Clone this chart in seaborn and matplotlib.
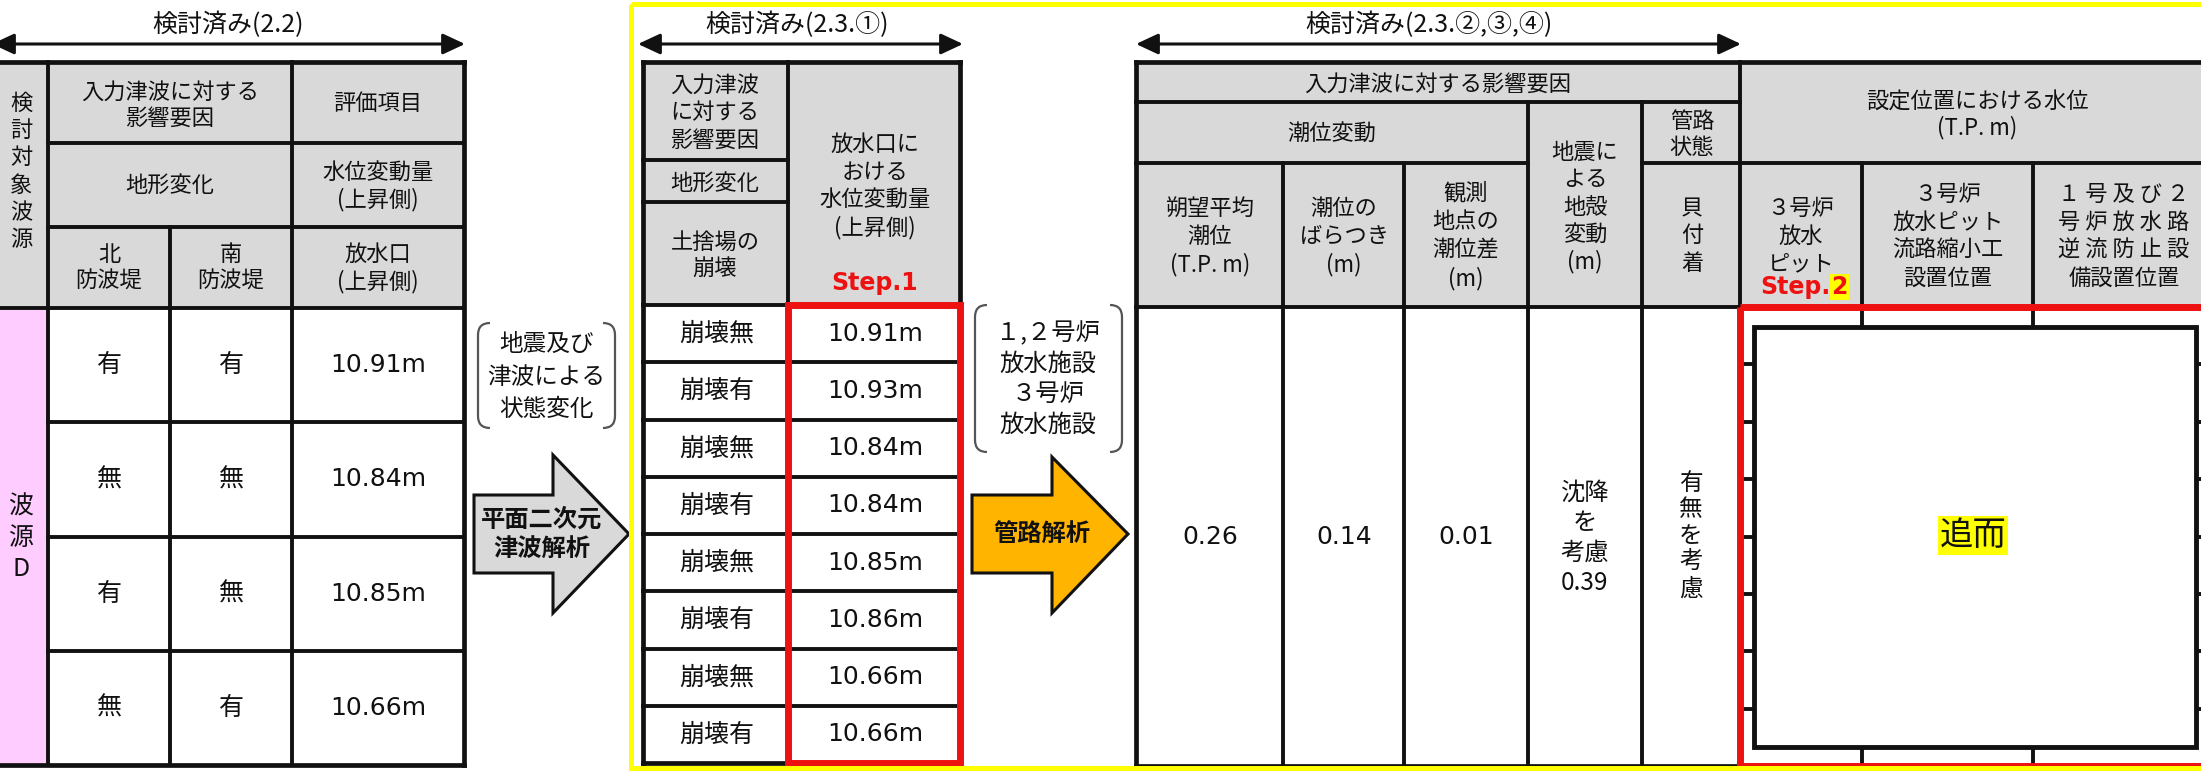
import matplotlib
matplotlib.use("Agg")
import matplotlib.pyplot as plt
import seaborn as sns
from matplotlib.patches import Rectangle, Polygon, PathPatch
from matplotlib.path import Path

sns.set_theme(style="white")
plt.rcParams['font.family'] = ['Noto Sans CJK JP', 'DejaVu Sans']

# ---------------- data ----------------
titles = ["検討済み(2.2)", "検討済み(2.3.①)", "検討済み(2.3.②,③,④)"]
wave_source = ["波", "源", "D"]
north_breakwater = ["有", "無", "有", "無"]
south_breakwater = ["有", "無", "無", "有"]
outlet_rise_22 = [10.91, 10.84, 10.85, 10.66]
dump_collapse = ["崩壊無", "崩壊有", "崩壊無", "崩壊有", "崩壊無", "崩壊有", "崩壊無", "崩壊有"]
outlet_rise_231 = [10.91, 10.93, 10.84, 10.84, 10.85, 10.86, 10.66, 10.66]
tide_mean = 0.26
tide_spread = 0.14
tide_obs_diff = 0.01
crust_subsidence = 0.39
pending_label = "追而"

# ---------------- canvas ----------------
W, H = 2201, 771
fig = plt.figure(figsize=(W / 100, H / 100), dpi=100)
ax = fig.add_axes([0, 0, 1, 1])
ax.set_xlim(0, W)
ax.set_ylim(H, 0)
ax.axis('off')

INK = '#111111'
GRAY = '#d9d9d9'
PINK = '#ffccff'
RED = '#ee1111'
YEL = '#ffff00'
LW = 2.8
LWO = 3.4
CJK = ['Noto Sans CJK JP', 'DejaVu Sans']
LAT = ['DejaVu Sans']


def fill(x0, y0, x1, y1, color, z=1):
    ax.add_patch(Rectangle((x0, y0), x1 - x0, y1 - y0, facecolor=color,
                           edgecolor='none', zorder=z))


def hline(y, x0, x1, lw=LW, color=INK, z=3):
    ax.plot([x0, x1], [y, y], color=color, lw=lw, solid_capstyle='projecting', zorder=z)


def vline(x, y0, y1, lw=LW, color=INK, z=3):
    ax.plot([x, x], [y0, y1], color=color, lw=lw, solid_capstyle='projecting', zorder=z)


def block(x, yc, lines, gap, size=16, family=CJK, color=INK, weight='normal'):
    n = len(lines)
    for i, s in enumerate(lines):
        y = yc + (i - (n - 1) / 2) * gap
        ax.text(x, y, s, ha='center', va='center', fontsize=size, family=family,
                color=color, fontweight=weight, zorder=8)


def darrow(x0, x1, y):
    ax.annotate('', xy=(x1, y), xytext=(x0, y),
                arrowprops=dict(arrowstyle='<|-|>,head_length=0.9,head_width=0.42',
                                lw=2.2, color=INK, mutation_scale=15,
                                shrinkA=0, shrinkB=0), zorder=8)


def bracket(x0, x1, y0, y1, r=12):
    c = '#555555'
    for sgn, x in ((1, x0), (-1, x1)):
        verts = [(x + sgn * r, y0), (x, y0), (x, y0 + r), (x, y1 - r), (x, y1), (x + sgn * r, y1)]
        codes = [Path.MOVETO, Path.CURVE3, Path.CURVE3, Path.LINETO, Path.CURVE3, Path.CURVE3]
        ax.add_patch(PathPatch(Path(verts, codes), facecolor='none', edgecolor=c, lw=1.6, zorder=4))


def block_arrow(xl, xb, xt, yt, yb, hy0, hy1, color):
    yc = (yt + yb) / 2
    pts = [(xl, yt), (xb, yt), (xb, hy0), (xt, yc), (xb, hy1), (xb, yb), (xl, yb)]
    ax.add_patch(Polygon(pts, closed=True, facecolor=color, edgecolor=INK, lw=2.2,
                         joinstyle='miter', zorder=4))


# ---------------- titles & arrows ----------------
title_x = [228, 797, 1429]
for tx, t in zip(title_x, titles):
    ax.text(tx, 25, t, ha='center', va='center', fontsize=18, family=CJK, color=INK, zorder=8)
darrow(-8, 465, 44)
darrow(638, 963, 44)
darrow(1136, 1741, 44)

# ---------------- left table (2.2) ----------------
LX = [-4, 48, 170, 292, 464]
LHY = [62, 143, 227, 308]
LB = 765
lrows = [LHY[-1] + i * (LB - LHY[-1]) / len(outlet_rise_22) for i in range(len(outlet_rise_22) + 1)]
fill(LX[0], LHY[0], LX[-1], LHY[-1], GRAY)
fill(LX[0], LHY[-1], LX[1], LB, PINK)
hline(LHY[0], LX[0], LX[-1], LWO)
hline(LB, LX[0], LX[-1], LWO)
vline(LX[-1], LHY[0], LB, LWO)
vline(LX[1], LHY[0], LB)
vline(LX[3], LHY[0], LB)
vline(LX[2], LHY[2], LB)
hline(LHY[1], LX[1], LX[-1])
hline(LHY[2], LX[1], LX[-1])
hline(LHY[3], LX[0], LX[-1])
for y in lrows[1:-1]:
    hline(y, LX[1], LX[-1])

block(21, 171.5, list("検討対象波源"), 27.4, 16)
block(170, 105, ["入力津波に対する", "影響要因"], 26, 16)
block(378, 103, ["評価項目"], 26, 16)
block(170, 185, ["地形変化"], 26, 16)
block(378, 186, ["水位変動量", "(上昇側)"], 28, 16)
block(109, 268, ["北", "防波堤"], 27, 16)
block(231, 268, ["南", "防波堤"], 27, 16)
block(378, 268, ["放水口", "(上昇側)"], 27, 16)
block(21, 538, wave_source, 31.5, 18)
for i in range(len(outlet_rise_22)):
    yc = (lrows[i] + lrows[i + 1]) / 2
    block(109, yc, [north_breakwater[i]], 0, 18)
    block(231, yc, [south_breakwater[i]], 0, 18)
    block(378, yc, [f"{outlet_rise_22[i]:.2f}m"], 0, 18, family=LAT)

# bracket + gray arrow
bracket(478, 615, 323, 428)
block(546, 377, ["地震及び", "津波による", "状態変化"], 32.5, 17)
block_arrow(474, 553, 629, 495, 573, 455, 613, GRAY)
block(542, 520, ["平面二次元"], 0, 17.5, weight='bold')
block(542, 550, ["津波解析"], 0, 17.5, weight='bold')

# ---------------- middle table (2.3.1) ----------------
MX = [643, 788, 960]
MHY = [62, 160, 202, 305]
MB = 763
mrows = [MHY[-1] + i * (MB - MHY[-1]) / len(outlet_rise_231) for i in range(len(outlet_rise_231) + 1)]
fill(MX[0], MHY[0], MX[-1], MHY[-1], GRAY)
hline(MHY[0], MX[0], MX[-1], LWO)
hline(MB, MX[0], MX[-1], LWO)
vline(MX[0], MHY[0], MB, LWO)
vline(MX[-1], MHY[0], MB, LWO)
vline(MX[1], MHY[0], MB)
hline(MHY[1], MX[0], MX[1])
hline(MHY[2], MX[0], MX[1])
hline(MHY[3], MX[0], MX[-1])
for y in mrows[1:-1]:
    hline(y, MX[0], MX[-1])
block(715, 112.5, ["入力津波", "に対する", "影響要因"], 27.5, 16)
block(715, 183, ["地形変化"], 0, 16)
block(715, 255.5, ["土捨場の", "崩壊"], 27, 16)
block(875, 186, ["放水口に", "おける", "水位変動量", "(上昇側)"], 27.5, 16)
ax.text(875, 283, "Step.1", ha='center', va='center', fontsize=17, family=LAT,
        fontweight='bold', color=RED, zorder=8)
for i in range(len(outlet_rise_231)):
    yc = (mrows[i] + mrows[i + 1]) / 2
    block(717, yc, [dump_collapse[i]], 0, 18)
    block(875, yc, [f"{outlet_rise_231[i]:.2f}m"], 0, 18, family=LAT)
ax.add_patch(Rectangle((MX[1], MHY[-1]), MX[-1] - MX[1], MB - MHY[-1], facecolor='none',
                       edgecolor=RED, lw=5, zorder=6))

# bracket + orange arrow
bracket(975, 1122, 305, 452)
block(1048, 379, ["１,２号炉", "放水施設", "３号炉", "放水施設"], 30.7, 17.5)
block_arrow(972, 1052, 1128, 495, 573, 457, 613, '#ffb400')
block(1042, 535, ["管路解析"], 0, 17.5, weight='bold')

# ---------------- right table (2.3.2-4) ----------------
RX = [1136, 1283, 1404, 1528, 1642, 1740, 1862, 2033, 2215]
RHY = [62, 102, 163, 307]
RB = 766
fill(RX[0], RHY[0], RX[-1], RHY[-1], GRAY)
hline(RHY[0], RX[0], RX[-1], LWO)
hline(RB, RX[0], RX[-1], LWO)
vline(RX[0], RHY[0], RB, LWO)
hline(RHY[1], RX[0], RX[5])
hline(RHY[2], RX[0], RX[3])
hline(RHY[2], RX[4], RX[-1])
hline(RHY[3], RX[0], RX[-1])
vline(RX[1], RHY[2], RB)
vline(RX[2], RHY[2], RB)
vline(RX[3], RHY[1], RB)
vline(RX[4], RHY[1], RB)
vline(RX[5], RHY[0], RB)
vline(RX[6], RHY[2], RB)
vline(RX[7], RHY[2], RB)
n_rows = len(outlet_rise_231)
for i in range(1, n_rows):
    hline(RHY[-1] + i * (RB - RHY[-1]) / n_rows, RX[5], RX[-1])

block(1438, 84, ["入力津波に対する影響要因"], 0, 16)
block(1332, 133, ["潮位変動"], 0, 16)
block(1210, 236.5, ["朔望平均", "潮位", "(T.P. m)"], 28.5, 16)
block(1344, 236.5, ["潮位の", "ばらつき", "(m)"], 28.5, 16)
block(1466, 236, ["観測", "地点の", "潮位差", "(m)"], 28.5, 16)
block(1585, 207, ["地震に", "よる", "地殻", "変動", "(m)"], 27.5, 16)
block(1692, 134.5, ["管路", "状態"], 25, 16)
block(1692, 236, ["貝", "付", "着"], 27.5, 16)
block(1977, 115, ["設定位置における水位", "(T.P. m)"], 26, 16)
block(1801, 236, ["３号炉", "放水", "ピット"], 27.5, 16)
ax.text(1831, 287, "Step.", ha='right', va='center', fontsize=17, family=LAT,
        fontweight='bold', color=RED, zorder=8)
ax.text(1831, 287, "2", ha='left', va='center', fontsize=17, family=LAT,
        fontweight='bold', color=RED, zorder=8,
        bbox=dict(facecolor=YEL, edgecolor='none', pad=1.0))
block(1948, 236.5, ["３号炉", "放水ピット", "流路縮小工", "設置位置"], 27.7, 16)
block(2124, 236.5, ["１ 号 及 び ２", "号 炉 放 水 路", "逆 流 防 止 設", "備設置位置"], 27.7, 16)

dy = (RHY[-1] + RB) / 2
block(1210, dy, [f"{tide_mean:.2f}"], 0, 18, family=LAT)
block(1344, dy, [f"{tide_spread:.2f}"], 0, 18, family=LAT)
block(1466, dy, [f"{tide_obs_diff:.2f}"], 0, 18, family=LAT)
block(1585, 538, ["沈降", "を", "考慮", f"{crust_subsidence:.2f}"], 30, 17.5)
block(1691, 536, list("有無を考慮"), 26.5, 17)

# pending (追而) box
ax.add_patch(Rectangle((1754, 327), 2196 - 1754, 747 - 327, facecolor='white',
                       edgecolor=INK, lw=3.5, zorder=5))
ax.text(1973, 535, pending_label, ha='center', va='center', fontsize=24, family=CJK,
        color=INK, zorder=8, bbox=dict(facecolor=YEL, edgecolor='none', pad=1.5))
ax.add_patch(Rectangle((RX[5], RHY[-1]), RX[-1] - RX[5], RB - RHY[-1], facecolor='none',
                       edgecolor=RED, lw=5, zorder=6))

# yellow frame
ax.add_patch(Rectangle((631, 4), 2215 - 631, 768 - 4, facecolor='none',
                       edgecolor=YEL, lw=3.6, zorder=7))

fig.savefig("out.png", dpi=100, facecolor='white')
